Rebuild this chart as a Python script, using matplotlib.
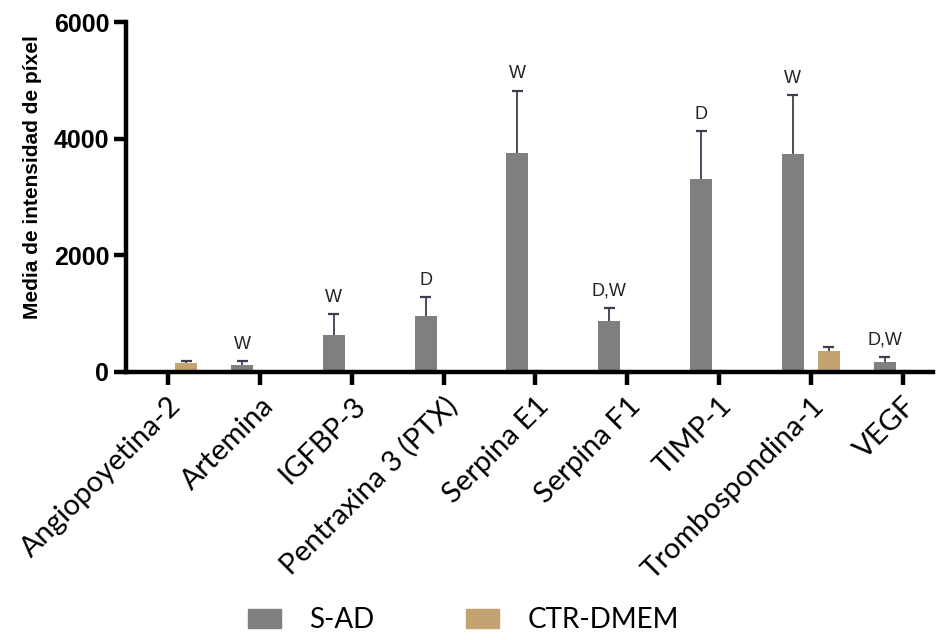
import matplotlib.pyplot as plt
from matplotlib.patches import Patch
import numpy as np

# data
proteins = ['Angiopoyetina-2', 'Artemina', 'IGFBP-3', 'Pentraxina 3 (PTX)',
            'Serpina E1', 'Serpina F1', 'TIMP-1', 'Trombospondina-1', 'VEGF']
s_ad = [0, 120, 630, 950, 3750, 880, 3300, 3730, 165]
s_ad_err = [0, 60, 360, 330, 1070, 210, 830, 1010, 95]
ctr = [160, 0, 0, 0, 0, 0, 0, 360, 0]
ctr_err = [25, 0, 0, 0, 0, 0, 0, 60, 0]
labels_sad = ['', 'W', 'W', 'D', 'W', 'D,W', 'D', 'W', 'D,W']

col_sad = '#7f7f7f'
col_ctr = '#c4a272'
err_col = '#3a3f4f'

fig = plt.figure(figsize=(9.36, 6.4), dpi=100)
ax = fig.add_axes([0.1346, 0.419, 0.862, 0.5466])

x = np.arange(len(proteins))
off = 0.195
w = 0.24
cap = 0.06


def upper_err(ax, xc, val, err):
    # only the upper half of the error bar, as in the original
    ax.vlines(xc, val, val + err, color=err_col, lw=1.3, zorder=3)
    ax.hlines(val + err, xc - cap, xc + cap, color=err_col, lw=1.6, zorder=3)


for i in range(len(proteins)):
    if s_ad[i] > 0:
        ax.bar(x[i] - off, s_ad[i], w, color=col_sad, zorder=2)
        upper_err(ax, x[i] - off, s_ad[i], s_ad_err[i])
        ax.annotate(labels_sad[i], (x[i] - off, s_ad[i] + s_ad_err[i]),
                    xytext=(0, 6), textcoords='offset points', ha='center', va='bottom',
                    fontsize=13, family='Liberation Sans', color='#222222')
    if ctr[i] > 0:
        ax.bar(x[i] + off, ctr[i], w, color=col_ctr, zorder=2)
        upper_err(ax, x[i] + off, ctr[i], ctr_err[i])

ax.set_xlim(-0.46, 8.33)
ax.set_ylim(0, 6000)
ax.set_yticks([0, 2000, 4000, 6000])
ax.set_yticklabels(['0', '2000', '4000', '6000'], fontsize=18, fontweight='bold',
                   family='Liberation Sans')
ax.set_xticks(x)
ax.set_xticklabels(proteins, rotation=45, ha='right', rotation_mode='anchor',
                   fontsize=21, family='Lato')
ax.set_ylabel('Media de intensidad de píxel', fontsize=15, fontweight='bold',
              family='Liberation Sans')
ax.yaxis.set_label_coords(-0.104, 0.557)

for s in ['top', 'right']:
    ax.spines[s].set_visible(False)
for s in ['left', 'bottom']:
    ax.spines[s].set_linewidth(3.2)
ax.tick_params(axis='both', width=3.2, length=9, direction='out')
ax.tick_params(axis='x', pad=6)
ax.tick_params(axis='y', pad=3)

handles = [Patch(color=col_sad, label='S-AD'), Patch(color=col_ctr, label='CTR-DMEM')]
fig.legend(handles=handles, loc='center', bbox_to_anchor=(0.495, 0.031), ncol=2,
           frameon=False, prop={'family': 'Lato', 'size': 20},
           handlelength=1.2, handleheight=0.65, columnspacing=3.3, handletextpad=1.0)

fig.savefig('out.png', dpi=100)
